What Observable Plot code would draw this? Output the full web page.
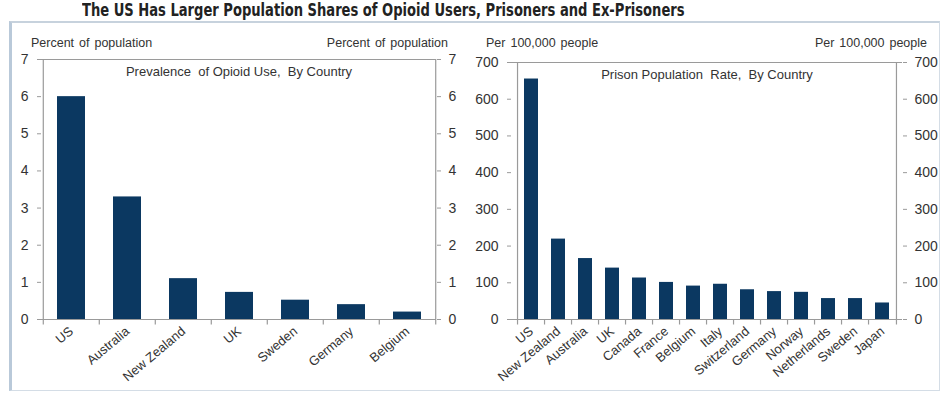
<!DOCTYPE html>
<html>
<head>
<meta charset="utf-8">
<script src="https://cdn.jsdelivr.net/npm/d3@7"></script>
<script src="https://cdn.jsdelivr.net/npm/@observablehq/plot@0.6"></script>
<style>
  html, body { margin: 0; padding: 0; background: #fff; }
  #wrap { position: relative; width: 945px; height: 398px; overflow: hidden; font-family: "Liberation Sans", Arial, sans-serif; color: #333; }
  #title { position: absolute; left: 82px; top: 0px; transform-origin: 0 0; transform: scaleX(0.856); font-family: "Liberation Sans Narrow", "DejaVu Sans Condensed", "Liberation Sans", sans-serif; font-stretch: condensed; font-weight: bold; font-size: 17px; color: #222; white-space: nowrap; }
  #box { position: absolute; left: 9px; top: 21px; width: 931px; height: 370px; border: 1px solid #d4dde6; border-left: 3px solid #b9c9d9; border-top: 2px solid #c7d2dd; box-sizing: border-box; }
  .unit { position: absolute; font-size: 12.5px; word-spacing: 1.5px; color: #333; white-space: nowrap; top: 36px; }
  .chart { position: absolute; top: 50px; }
</style>
</head>
<body>
<div id="wrap">
  <div id="box"></div>
  <div id="title">The US Has Larger Population Shares of Opioid Users, Prisoners and Ex-Prisoners</div>
  <div class="unit" style="left:31px">Percent of population</div>
  <div class="unit" style="right:497px">Percent of population</div>
  <div class="unit" style="left:486px">Per 100,000 people</div>
  <div class="unit" style="right:18px">Per 100,000 people</div>
  <div class="chart" id="left" style="left:0px"></div>
  <div class="chart" id="right" style="left:470px"></div>
</div>
<script>
// Left panel: Prevalence of opioid use (percent of population)
const opioidCountries = ["US", "Australia", "New Zealand", "UK", "Sweden", "Germany", "Belgium"];
const opioidValues = [6.0, 3.3, 1.1, 0.73, 0.52, 0.4, 0.2];
const opioidTicks = [0, 1, 2, 3, 4, 5, 6, 7];

// Right panel: Prison population rate (per 100,000 people)
const prisonCountries = ["US", "New Zealand", "Australia", "UK", "Canada", "France", "Belgium", "Italy", "Switzerland", "Germany", "Norway", "Netherlands", "Sweden", "Japan"];
const prisonValues = [655, 219, 166, 140, 113, 101, 91, 96, 81, 76, 74, 57, 57, 45];
const prisonTicks = [0, 100, 200, 300, 400, 500, 600, 700];

const BAR = "#0b3861";
const AXIS = "#9a9a9a";

function panel({countries, values, ticks, title, width, mLeft, mRight, mTop, mBottom, tickExt}) {
  const height = 348;
  const data = countries.map((c, i) => ({country: c, value: values[i]}));
  const plotW = width - mLeft - mRight;
  const step = plotW / countries.length;
  const ymax = ticks[ticks.length - 1];
  const fmt = d3.format("d");
  return Plot.plot({
    width, height,
    marginLeft: mLeft, marginRight: mRight, marginTop: mTop, marginBottom: mBottom,
    style: {fontFamily: "'Liberation Sans', Arial, sans-serif", fontSize: "14px", color: "#333", background: "transparent"},
    x: {type: "band", domain: countries, paddingInner: 0.5, paddingOuter: 0.25, label: null},
    y: {domain: [0, ymax], label: null},
    marks: [
      Plot.barY(data, {x: "country", y: "value", fill: BAR}),
      // top frame line
      Plot.ruleY([ymax], {stroke: AXIS, strokeWidth: 1.2}),
      // baseline
      Plot.ruleY([0], {stroke: AXIS, strokeWidth: 1.2}),
      // category boundary ticks below the axis
      Plot.ruleX(countries.slice(1), {x: d => d, y1: 0, y2: -tickExt, dx: -step / 2, stroke: AXIS, strokeWidth: 1.2}),
      Plot.axisY({anchor: "left", ticks, tickSize: 4, tickPadding: 9, stroke: AXIS, fill: "#333", fontSize: 14, tickFormat: fmt, label: null}),
      Plot.axisY({anchor: "right", ticks, tickSize: 4, tickPadding: 8, stroke: AXIS, fill: "#333", fontSize: 14, tickFormat: fmt, label: null}),
      Plot.ruleX([0], {x: () => countries[0], dx: -step / 2, y1: -tickExt, y2: ymax, stroke: AXIS, strokeWidth: 1.2}),
      Plot.ruleX([0], {x: () => countries[countries.length - 1], dx: step / 2, y1: -tickExt, y2: ymax, stroke: AXIS, strokeWidth: 1.2}),
      Plot.axisX({anchor: "bottom", tickSize: 0, tickPadding: 10, tickRotate: -40, fontSize: 13, fill: "#333", label: null}),
      Plot.text([title], {frameAnchor: "top", dy: 7, fontSize: 13, fill: "#333", text: d => d})
    ]
  });
}

document.getElementById("left").append(panel({
  countries: opioidCountries, values: opioidValues, ticks: opioidTicks,
  title: "Prevalence  of Opioid Use,  By Country",
  width: 470, mLeft: 41, mRight: 34, mTop: 9, mBottom: 79, tickExt: 0.15
}));
document.getElementById("right").append(panel({
  countries: prisonCountries, values: prisonValues, ticks: prisonTicks,
  title: "Prison Population  Rate,  By Country",
  width: 475, mLeft: 41, mRight: 43, mTop: 12, mBottom: 79, tickExt: 15
}));
</script>
</body>
</html>
